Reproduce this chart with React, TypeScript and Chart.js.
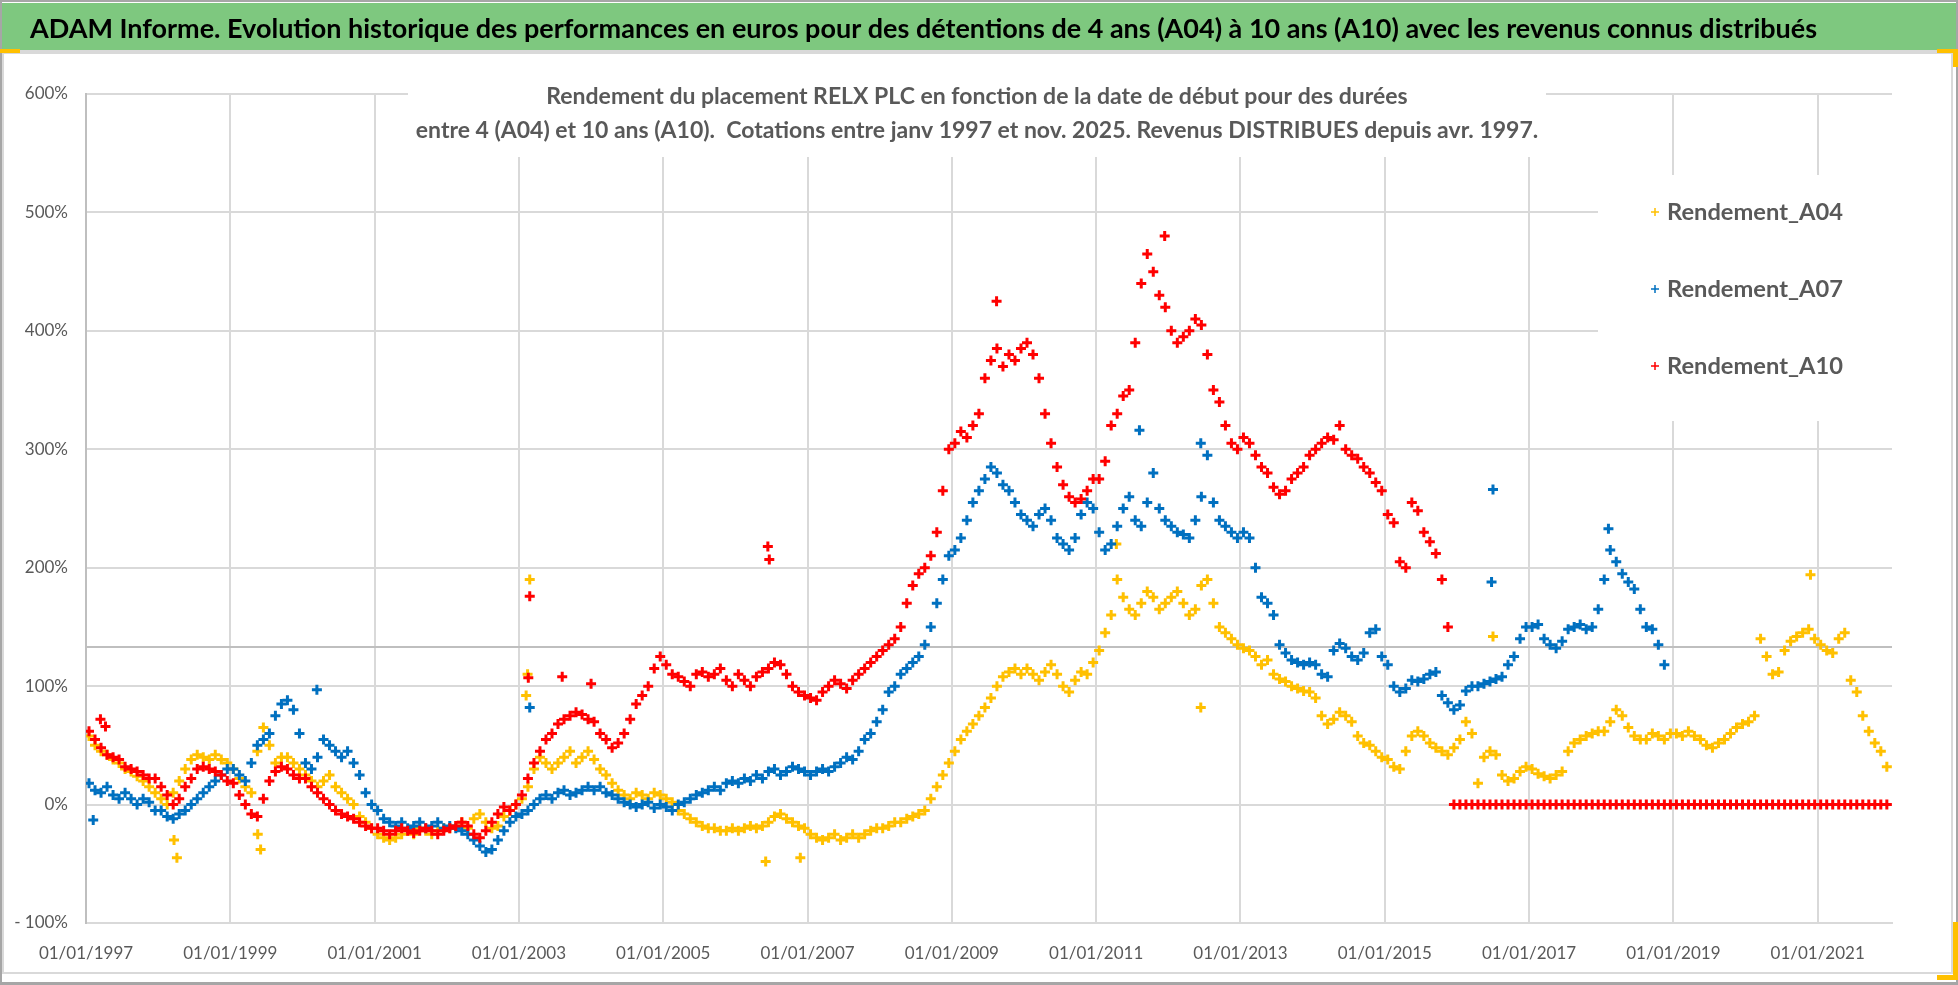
import React, { useEffect, useRef } from "react";
import { Chart, registerables } from "chart.js";

Chart.register(...registerables);

const WIDTH = 1958;
const HEIGHT = 985;
const FONT = "Lato, 'Open Sans', sans-serif";

const HEADER_TEXT =
  "ADAM Informe. Evolution historique des performances en euros pour des détentions de 4 ans (A04) à 10 ans (A10) avec les revenus connus distribués";
const TITLE_LINES = [
  "Rendement du placement RELX PLC en fonction de la date de début pour des durées",
  "entre 4 (A04) et 10 ans (A10).  Cotations entre janv 1997 et nov. 2025. Revenus DISTRIBUES depuis avr. 1997.",
];
const SERIES_NAMES = ["Rendement_A04", "Rendement_A07", "Rendement_A10"];
const SERIES_COLORS = ["#FFC000", "#0070C0", "#FF0000"];

const FIRST_YEAR = 1997;
const X_MAX = 2022.03;
const X_TICK_YEARS = [1997, 1999, 2001, 2003, 2005, 2007, 2009, 2011, 2013, 2015, 2017, 2019, 2021];
const Y_MIN = -100;
const Y_MAX = 600;
const Y_STEP = 100;
const REFERENCE_LEVEL = 133;

// Monthly readings (%), starting January 1997
const A04_MONTHLY = [
  58, 50, 45, 42, 38, 35, 30, 28, 24, 20, 15, 10, // 1997
  5, 0, 10, 20, 30, 38, 42, 40, 38, 42, 38, 35, // 1998
  30, 22, 15, 10, 45, 65, 50, 35, 40, 40, 35, 30, // 1999
  25, 20, 15, 20, 25, 15, 10, 5, 0, -10, -15, -20, // 2000
  -25, -28, -30, -28, -25, -22, -25, -20, -22, -25, -22, -20, // 2001
  -20, -18, -15, -20, -12, -8, -15, -20, -18, -10, -5, 0, // 2002
  5, 15, 30, 40, 35, 30, 35, 40, 45, 35, 40, 45, // 2003
  38, 30, 25, 18, 12, 8, 5, 10, 8, 5, 10, 8, // 2004
  5, 2, -5, -8, -12, -15, -18, -20, -20, -22, -22, -20, // 2005
  -22, -20, -18, -20, -18, -15, -10, -8, -12, -15, -18, -20, // 2006
  -25, -28, -30, -28, -25, -30, -28, -25, -28, -25, -22, -20, // 2007
  -20, -18, -15, -15, -12, -10, -8, -5, 5, 15, 25, 35, // 2008
  45, 55, 62, 68, 75, 82, 90, 100, 108, 112, 115, 110, // 2009
  115, 110, 105, 112, 118, 110, 100, 95, 105, 112, 110, 120, // 2010
  130, 145, 160, 190, 175, 165, 160, 170, 180, 175, 165, 170, // 2011
  175, 180, 170, 160, 165, 185, 190, 170, 150, 145, 140, 135, // 2012
  132, 130, 125, 118, 122, 110, 106, 104, 100, 98, 96, 95, // 2013
  90, 75, 68, 72, 78, 75, 70, 58, 52, 50, 45, 40, // 2014
  38, 32, 30, 45, 58, 62, 58, 52, 48, 45, 42, 48, // 2015
  55, 70, 60, 18, 40, 45, 42, 25, 20, 22, 28, 32, // 2016
  30, 26, 24, 22, 25, 28, 45, 52, 55, 58, 60, 62, // 2017
  62, 70, 80, 75, 65, 58, 55, 55, 60, 58, 55, 60, // 2018
  60, 58, 62, 58, 55, 50, 48, 52, 55, 60, 65, 68, // 2019
  70, 75, 140, 125, 110, 112, 130, 138, 142, 145, 148, 140, // 2020
  135, 130, 128, 140, 145, 105, 95, 75, 62, 52, 45, 32, // 2021
];
const A07_MONTHLY = [
  18, 12, 10, 15, 8, 5, 10, 5, 0, 5, 2, -5, // 1997
  -5, -10, -12, -8, -5, 0, 5, 10, 15, 20, 25, 30, // 1998
  30, 25, 20, 35, 50, 55, 60, 75, 85, 88, 80, 60, // 1999
  35, 30, 40, 55, 50, 45, 40, 45, 35, 25, 10, 0, // 2000
  -5, -12, -15, -18, -15, -20, -18, -15, -20, -18, -15, -20, // 2001
  -18, -20, -22, -25, -30, -35, -40, -38, -30, -22, -15, -10, // 2002
  -8, -5, 0, 5, 8, 5, 10, 12, 8, 10, 12, 15, // 2003
  12, 15, 10, 8, 5, 2, 0, -2, 0, 2, -3, 0, // 2004
  -2, -5, 0, 2, 5, 8, 10, 12, 15, 12, 18, 20, // 2005
  18, 22, 20, 25, 22, 28, 30, 25, 28, 32, 30, 28, // 2006
  25, 28, 30, 28, 32, 35, 40, 38, 45, 55, 60, 70, // 2007
  80, 95, 100, 110, 115, 120, 125, 135, 150, 170, 190, 210, // 2008
  215, 225, 240, 255, 265, 275, 285, 280, 270, 265, 255, 245, // 2009
  240, 235, 245, 250, 240, 225, 220, 215, 225, 245, 255, 250, // 2010
  230, 215, 220, 235, 250, 260, 240, 235, 255, 280, 250, 240, // 2011
  235, 230, 228, 225, 240, 260, 295, 255, 240, 235, 230, 225, // 2012
  230, 225, 200, 175, 170, 160, 135, 128, 122, 120, 118, 120, // 2013
  118, 110, 108, 130, 136, 132, 125, 122, 128, 145, 148, 125, // 2014
  118, 100, 95, 98, 105, 104, 106, 110, 112, 92, 86, 80, // 2015
  84, 96, 100, 100, 102, 104, 106, 108, 118, 125, 140, 150, // 2016
  150, 152, 140, 135, 132, 138, 148, 150, 152, 148, 150, 165, // 2017
  190, 215, 205, 195, 188, 182, 165, 150, 148, 135, 118, // 2018
];
const A10_MONTHLY = [
  62, 55, 48, 42, 40, 38, 32, 30, 28, 25, 22, 22, // 1997
  15, 8, 0, 5, 15, 22, 30, 32, 30, 28, 25, 20, // 1998
  18, 8, 0, -8, -10, 5, 20, 28, 32, 30, 25, 22, // 1999
  22, 15, 10, 5, 0, -5, -8, -10, -12, -15, -18, -20, // 2000
  -20, -22, -25, -22, -20, -22, -24, -22, -20, -22, -25, -22, // 2001
  -20, -18, -15, -18, -25, -28, -22, -15, -8, -2, -5, 0, // 2002
  8, 22, 35, 45, 55, 60, 68, 72, 75, 78, 76, 72, // 2003
  70, 60, 55, 48, 52, 60, 72, 85, 92, 100, 115, 125, // 2004
  118, 110, 108, 104, 100, 110, 112, 108, 110, 115, 105, 100, // 2005
  110, 105, 100, 108, 112, 115, 120, 118, 110, 100, 95, 92, // 2006
  90, 88, 95, 100, 105, 102, 98, 105, 110, 115, 120, 125, // 2007
  130, 135, 140, 150, 170, 185, 195, 200, 210, 230, 265, 300, // 2008
  305, 315, 310, 320, 330, 360, 375, 385, 370, 380, 375, 385, // 2009
  390, 380, 360, 330, 305, 285, 270, 260, 255, 258, 265, 275, // 2010
  275, 290, 320, 330, 345, 350, 390, 440, 465, 450, 430, 420, // 2011
  400, 390, 395, 400, 410, 405, 380, 350, 340, 320, 305, 300, // 2012
  310, 305, 295, 285, 280, 268, 262, 265, 275, 280, 285, 295, // 2013
  300, 305, 310, 308, 320, 300, 295, 292, 285, 280, 272, 265, // 2014
  245, 238, 205, 200, 255, 248, 230, 222, 212, 190, 150, 0, // 2015
  0, 0, 0, 0, 0, 0, 0, 0, 0, 0, 0, 0, // 2016
  0, 0, 0, 0, 0, 0, 0, 0, 0, 0, 0, 0, // 2017
  0, 0, 0, 0, 0, 0, 0, 0, 0, 0, 0, 0, // 2018
  0, 0, 0, 0, 0, 0, 0, 0, 0, 0, 0, 0, // 2019
  0, 0, 0, 0, 0, 0, 0, 0, 0, 0, 0, 0, // 2020
  0, 0, 0, 0, 0, 0, 0, 0, 0, 0, 0, 0, // 2021
];

// Isolated points [decimal year, %]
const A04_EXTRA = [
  [1998.22, -30], [1998.26, -45], [1999.38, -25], [1999.42, -38], [2003.15, 190],
  [2003.12, 110], [2003.1, 92], [2006.42, -48], [2006.9, -45], [2011.28, 220],
  [2012.45, 82], [2016.5, 142], [2020.9, 194],
];
const A07_EXTRA = [
  [1997.1, -13], [2000.2, 97], [2003.15, 82], [2011.6, 316], [2012.45, 305],
  [2016.5, 266], [2016.48, 188], [2018.1, 233],
];
const A10_EXTRA = [
  [1997.2, 72], [1997.27, 66], [2003.15, 176], [2003.13, 107], [2003.6, 108],
  [2004.0, 102], [2006.45, 218], [2006.47, 207], [2009.62, 425], [2011.95, 480],
];

const monthly = (vals: number[]) => vals.map((y, i) => ({ x: FIRST_YEAR + (i + 0.5) / 12, y }));
const pairs = (list: number[][]) => list.map(([x, y]) => ({ x, y }));

function fitSize(ctx: CanvasRenderingContext2D, text: string, weight: string, target: number) {
  ctx.font = `${weight} 100px ${FONT}`;
  const w = ctx.measureText(text).width;
  return (100 * target) / w;
}

const decorPlugin = {
  id: "decor",
  beforeDraw(chart: any) {
    const ctx: CanvasRenderingContext2D = chart.ctx;
    ctx.save();
    ctx.fillStyle = "#ffffff";
    ctx.fillRect(0, 0, WIDTH, HEIGHT);
    // header band
    ctx.fillStyle = "#7ec87f";
    ctx.fillRect(2, 3, WIDTH - 4, 47);
    ctx.fillStyle = "#a6a6a6";
    ctx.fillRect(0, 0, WIDTH, 2);
    ctx.fillRect(0, 0, 2, HEIGHT);
    ctx.fillRect(WIDTH - 2, 0, 2, HEIGHT);
    ctx.fillRect(0, HEIGHT - 3, WIDTH, 3);
    ctx.fillStyle = "#d9d9d9";
    ctx.fillRect(2, 50, WIDTH - 4, 3);
    // chart frame
    ctx.strokeStyle = "#d9d9d9";
    ctx.lineWidth = 2;
    ctx.strokeRect(3, 53, 1949, 920);
    // selection marks
    ctx.fillStyle = "#FFC000";
    ctx.fillRect(0, 49, 20, 4);
    ctx.fillRect(1937, 49, 21, 4);
    ctx.fillRect(1953, 49, 5, 18);
    ctx.fillRect(1953, 922, 5, 58);
    ctx.fillRect(1937, 975, 21, 5);
    // header text
    const size = fitSize(ctx, HEADER_TEXT, "bold", 1788);
    ctx.font = `bold ${size}px ${FONT}`;
    ctx.fillStyle = "#000000";
    ctx.textAlign = "left";
    ctx.textBaseline = "alphabetic";
    ctx.fillText(HEADER_TEXT, 30, 38);
    ctx.restore();
  },
  beforeDatasetsDraw(chart: any) {
    const ctx: CanvasRenderingContext2D = chart.ctx;
    ctx.save();
    ctx.fillStyle = "#ffffff";
    ctx.fillRect(408, 60, 1138, 97);
    ctx.fillRect(1598, 175, 296, 246);
    ctx.restore();
  },
  afterDraw(chart: any) {
    const ctx: CanvasRenderingContext2D = chart.ctx;
    ctx.save();
    // chart title
    const tSize = fitSize(ctx, TITLE_LINES[1], "bold", 1123);
    ctx.font = `bold ${tSize}px ${FONT}`;
    ctx.fillStyle = "#595959";
    ctx.textAlign = "center";
    ctx.textBaseline = "alphabetic";
    ctx.fillText(TITLE_LINES[0], 977, 104);
    ctx.fillText(TITLE_LINES[1], 977, 138);
    // legend
    const lSize = fitSize(ctx, SERIES_NAMES[0], "bold", 176);
    ctx.font = `bold ${lSize}px ${FONT}`;
    ctx.textAlign = "left";
    ctx.textBaseline = "middle";
    const ys = [212, 289, 366];
    SERIES_NAMES.forEach((name, i) => {
      const y = ys[i];
      ctx.strokeStyle = SERIES_COLORS[i];
      ctx.lineWidth = 1.5;
      ctx.beginPath();
      ctx.moveTo(1651, y);
      ctx.lineTo(1659, y);
      ctx.moveTo(1655, y - 4);
      ctx.lineTo(1655, y + 4);
      ctx.stroke();
      ctx.fillStyle = "#595959";
      ctx.fillText(name, 1667, y);
    });
    ctx.restore();
  },
};

export default function App() {
  const canvasRef = useRef<HTMLCanvasElement | null>(null);

  useEffect(() => {
    if (!canvasRef.current) return;
    const tickFont = { family: FONT, size: 17 };
    const seriesData = [
      [...monthly(A04_MONTHLY), ...pairs(A04_EXTRA)],
      [...monthly(A07_MONTHLY), ...pairs(A07_EXTRA)],
      [...monthly(A10_MONTHLY), ...pairs(A10_EXTRA)],
    ];
    const chart = new Chart(canvasRef.current, {
      type: "scatter",
      data: {
        datasets: [
          ...SERIES_NAMES.map((name, i) => ({
            type: "scatter" as const,
            label: name,
            data: seriesData[i],
            pointStyle: "cross" as const,
            pointRadius: 5,
            pointBorderWidth: 3,
            borderColor: SERIES_COLORS[i],
            backgroundColor: SERIES_COLORS[i],
            order: 3 - i,
            showLine: false,
          })),
          {
            type: "line" as const,
            label: "niveau",
            data: [
              { x: FIRST_YEAR, y: REFERENCE_LEVEL },
              { x: X_MAX, y: REFERENCE_LEVEL },
            ],
            borderColor: "#bfbfbf",
            borderWidth: 2,
            pointRadius: 0,
            order: 10,
          },
        ],
      } as any,
      options: {
        responsive: false,
        maintainAspectRatio: false,
        animation: false,
        events: [],
        layout: { padding: { left: 0, top: 94, right: 66, bottom: 0 }, autoPadding: false },
        plugins: {
          legend: { display: false },
          tooltip: { enabled: false },
          title: { display: false },
        },
        scales: {
          x: {
            type: "linear",
            min: FIRST_YEAR,
            max: X_MAX,
            afterBuildTicks: (s: any) => {
              s.ticks = X_TICK_YEARS.map((v) => ({ value: v }));
            },
            afterFit: (s: any) => {
              s.height = 62;
            },
            grid: { color: "#d9d9d9", lineWidth: 2, drawTicks: false },
            border: { display: true, color: "#d9d9d9", width: 2 },
            ticks: {
              callback: (v: any) => "01/01/" + v,
              padding: 20,
              font: tickFont,
              color: "#595959",
              maxRotation: 0,
              autoSkip: false,
            },
          },
          y: {
            min: Y_MIN,
            max: Y_MAX,
            afterFit: (s: any) => {
              s.width = 86;
            },
            grid: { color: "#d9d9d9", lineWidth: 2, drawTicks: false },
            border: { display: true, color: "#bfbfbf", width: 2 },
            ticks: {
              stepSize: Y_STEP,
              callback: (v: any) => (v < 0 ? "- " + -v + "%" : v + "%"),
              padding: 18,
              font: tickFont,
              color: "#595959",
            },
          },
        },
      } as any,
      plugins: [decorPlugin],
    });
    return () => chart.destroy();
  }, []);

  return (
    <div style={{ position: "fixed", left: 0, top: 0, width: WIDTH, height: HEIGHT }}>
      <canvas ref={canvasRef} width={WIDTH} height={HEIGHT} style={{ display: "block" }} />
    </div>
  );
}
